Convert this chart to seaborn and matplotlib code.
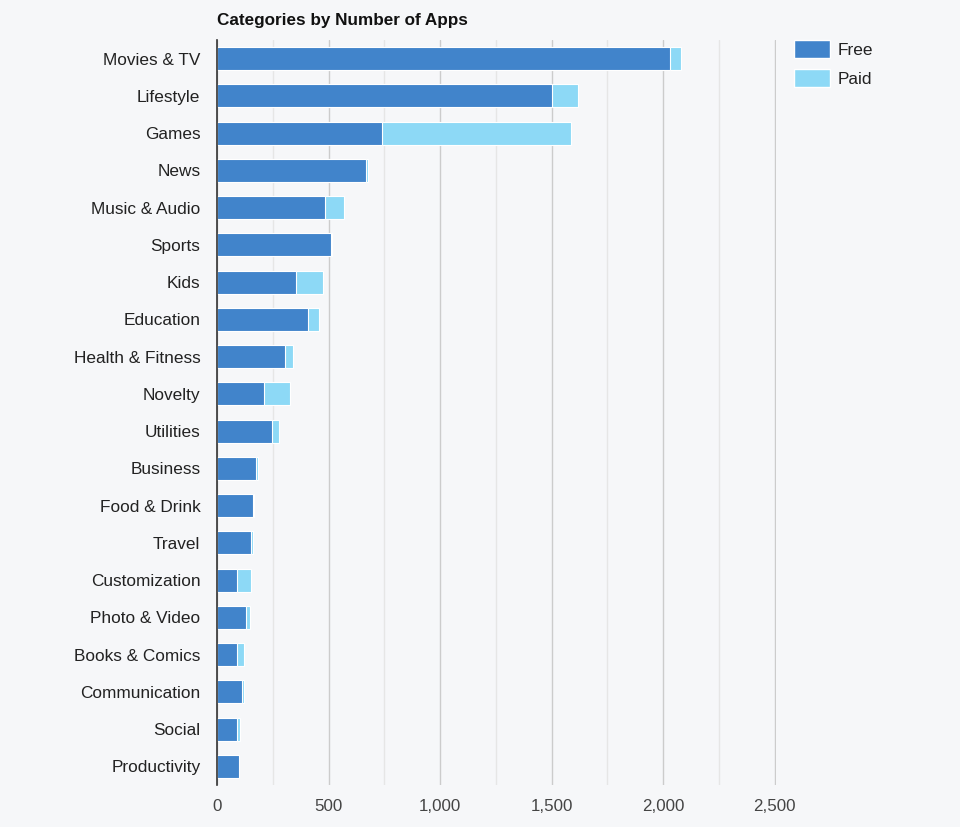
import matplotlib
matplotlib.use('Agg')
import matplotlib.pyplot as plt
from matplotlib.patches import Patch
from matplotlib.ticker import MultipleLocator, FuncFormatter
import pandas as pd
import seaborn as sns

categories = ['Movies & TV', 'Lifestyle', 'Games', 'News', 'Music & Audio', 'Sports',
              'Kids', 'Education', 'Health & Fitness', 'Novelty', 'Utilities',
              'Business', 'Food & Drink', 'Travel', 'Customization', 'Photo & Video',
              'Books & Comics', 'Communication', 'Social', 'Productivity']
free_apps = [2032, 1503, 738, 670, 486, 509, 352, 410, 307, 209, 246,
             175, 160, 152, 88, 131, 88, 110, 88, 98]
paid_apps = [49, 113, 847, 9, 82, 7, 124, 48, 36, 118, 33,
             7, 4, 8, 66, 15, 31, 9, 15, 3]

FREE_COLOR = '#4184cb'
PAID_COLOR = '#8dd9f6'
BG = '#f6f7f9'

df = pd.DataFrame({'Category': categories, 'Free': free_apps, 'Paid': paid_apps})
df['Total'] = df['Free'] + df['Paid']

sns.set_theme(style='white')
plt.rcParams['font.family'] = ['Liberation Sans', 'DejaVu Sans']

fig = plt.figure(figsize=(9.6, 8.27), dpi=100, facecolor=BG)
ax = fig.add_axes([0.226, 0.0508, 0.5825, 0.9008])
ax.set_facecolor(BG)

# stacked: total in paid colour, free drawn on top
sns.barplot(data=df, x='Total', y='Category', color=PAID_COLOR, width=0.62,
            edgecolor='white', linewidth=0.8, saturation=1, ax=ax, zorder=3)
sns.barplot(data=df, x='Free', y='Category', color=FREE_COLOR, width=0.62,
            edgecolor='white', linewidth=0.8, saturation=1, ax=ax, zorder=4)

ax.set_xlim(0, 2506)
ax.set_ylim(len(categories) - 0.5, -0.5)
ax.xaxis.set_major_locator(MultipleLocator(500))
ax.xaxis.set_minor_locator(MultipleLocator(250))
ax.xaxis.set_major_formatter(FuncFormatter(lambda v, p: f'{int(v):,}'))
ax.grid(axis='x', which='major', color='#cccccc', linewidth=1, zorder=0)
ax.grid(axis='x', which='minor', color='#e6e6e6', linewidth=1, zorder=0)
ax.set_axisbelow(True)

for s in ['top', 'right', 'bottom']:
    ax.spines[s].set_visible(False)
ax.spines['left'].set_color('#333333')
ax.spines['left'].set_linewidth(1.2)
ax.spines['left'].set_zorder(10)

ax.tick_params(axis='y', length=0, pad=12, labelsize=12.4, labelcolor='#222222')
ax.tick_params(axis='x', which='both', length=0, pad=10, labelsize=12.2, labelcolor='#444444')
ax.set_xlabel('')
ax.set_ylabel('')

fig.text(217 / 960, 1 - 20 / 827, 'Categories by Number of Apps', fontsize=12.3,
         fontweight='bold', color='#111111', ha='left', va='center')

handles = [Patch(facecolor=FREE_COLOR, edgecolor='white', label='Free'),
           Patch(facecolor=PAID_COLOR, edgecolor='white', label='Paid')]
fig.legend(handles=handles, loc='upper left', bbox_to_anchor=(778 / 960, 1 - 24 / 827),
           frameon=False, fontsize=12.4, handlelength=2.1, handleheight=1.3,
           labelspacing=0.6, handletextpad=0.45, labelcolor='#222222')

fig.savefig('out.png', dpi=100, facecolor=BG)
